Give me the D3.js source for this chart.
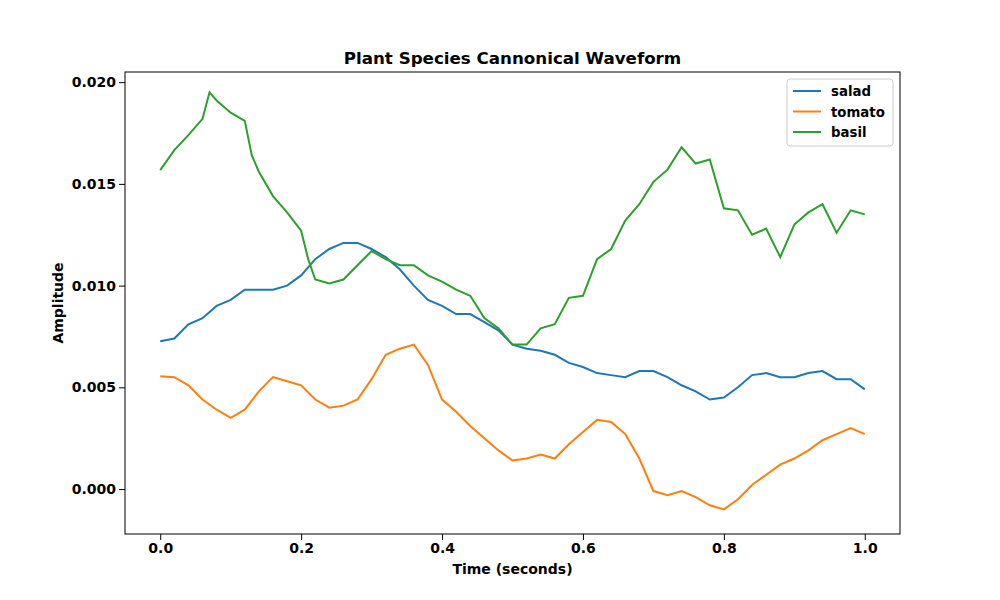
<!DOCTYPE html>
<html><head><meta charset="utf-8">
<script src="https://cdn.jsdelivr.net/npm/d3@7"></script>
<style>body{margin:0;background:#fff}text{font-family:"DejaVu Sans",sans-serif;font-weight:bold}</style>
</head><body><svg id="c" width="1000" height="600"></svg>
<script>
const times=d3.range(51).map(i=>i*0.02);
const salad=[0.00727,0.0074,0.0081,0.0084,0.0090,0.0093,0.0098,0.0098,0.0098,0.0100,0.0105,0.0113,0.0118,0.0121,0.0121,0.0118,0.0114,0.0108,0.0100,0.0093,0.0090,0.0086,0.0086,0.0082,0.0078,0.0071,0.0069,0.0068,0.0066,0.0062,0.0060,0.0057,0.0056,0.0055,0.0058,0.0058,0.0055,0.0051,0.0048,0.0044,0.0045,0.0050,0.0056,0.0057,0.0055,0.0055,0.0057,0.0058,0.0054,0.0054,0.0049];
const tomato=[0.00555,0.0055,0.0051,0.0044,0.0039,0.0035,0.0039,0.0048,0.0055,0.0053,0.0051,0.0044,0.0040,0.0041,0.0044,0.0054,0.0066,0.0069,0.0071,0.0061,0.0044,0.0038,0.0031,0.0025,0.0019,0.0014,0.0015,0.0017,0.0015,0.0022,0.0028,0.0034,0.0033,0.0027,0.0015,-0.0001,-0.0003,-0.0001,-0.0004,-0.0008,-0.0010,-0.0005,0.0002,0.0007,0.0012,0.0015,0.0019,0.0024,0.0027,0.0030,0.0027];
const basilT=[0,0.02,0.04,0.06,0.07,0.08,0.10,0.12,0.13,0.14,0.16,0.18,0.20,0.21,0.22,0.24,0.26,0.28,0.30,0.32,0.34,0.36,0.38,0.40,0.42,0.44,0.46,0.48,0.50,0.52,0.54,0.56,0.58,0.60,0.62,0.64,0.66,0.68,0.70,0.72,0.74,0.76,0.78,0.80,0.82,0.84,0.86,0.88,0.90,0.92,0.94,0.96,0.98,1.00];
const basil=[0.01568,0.01666,0.0174,0.0182,0.0195,0.0191,0.0185,0.0181,0.0164,0.0156,0.0144,0.0136,0.0127,0.0113,0.0103,0.0101,0.0103,0.0110,0.0117,0.0113,0.0110,0.0110,0.0105,0.0102,0.0098,0.0095,0.0084,0.0079,0.0071,0.0071,0.0079,0.0081,0.0094,0.0095,0.0113,0.0118,0.0132,0.0140,0.0151,0.0157,0.0168,0.0160,0.0162,0.0138,0.0137,0.0125,0.0128,0.0114,0.0130,0.0136,0.0140,0.0126,0.0137,0.0135];
const xTicks=[0,0.2,0.4,0.6,0.8,1.0];
const yTicks=[0,0.005,0.01,0.015,0.02];
const L=125,R=900,T=72,B=534;
const svg=d3.select("#c");
const x=d3.scaleLinear().domain([-0.05,1.05]).range([L,R]);
const y=d3.scaleLinear().domain([-0.00221,0.0205]).range([B,T]);
const series=[{n:"salad",c:"#1f77b4",t:times,v:salad},{n:"tomato",c:"#ff7f0e",t:times,v:tomato},{n:"basil",c:"#2ca02c",t:basilT,v:basil}];
const line=d3.line().x(d=>x(d[0])).y(d=>y(d[1]));
series.forEach(s=>svg.append("path").attr("d",line(s.t.map((t,i)=>[t,s.v[i]]))).attr("fill","none").attr("stroke",s.c).attr("stroke-width",2));
const sty=g=>{g.select(".domain").remove();g.selectAll("text").attr("font-size",14).attr("fill","#000").style("font-family","DejaVu Sans").style("font-weight","bold");};
svg.append("g").attr("transform",`translate(0,${B})`).call(d3.axisBottom(x).tickValues(xTicks).tickFormat(d3.format(".1f")).tickSizeOuter(0)).call(sty);
svg.append("g").attr("transform",`translate(${L},0)`).call(d3.axisLeft(y).tickValues(yTicks).tickFormat(d3.format(".3f")).tickSizeOuter(0)).call(sty);
svg.append("rect").attr("x",L).attr("y",T).attr("width",R-L).attr("height",B-T).attr("fill","none").attr("stroke","#000");
svg.append("text").attr("x",(L+R)/2).attr("y",64).attr("text-anchor","middle").attr("font-size",16.7).text("Plant Species Cannonical Waveform");
svg.append("text").attr("x",(L+R)/2).attr("y",574).attr("text-anchor","middle").attr("font-size",14).text("Time (seconds)");
svg.append("text").attr("transform","translate(63,303) rotate(-90)").attr("text-anchor","middle").attr("font-size",14).text("Amplitude");
const lg=svg.append("g").attr("transform","translate(787,79)");
lg.append("rect").attr("width",106).attr("height",67).attr("fill","#fff").attr("stroke","#ccc").attr("rx",3);
series.forEach((s,i)=>{lg.append("line").attr("x1",6).attr("x2",34).attr("y1",12+i*20.5).attr("y2",12+i*20.5).attr("stroke",s.c).attr("stroke-width",2);
lg.append("text").attr("x",44).attr("y",17+i*20.5).attr("font-size",13.3).text(s.n);});
</script></body></html>
